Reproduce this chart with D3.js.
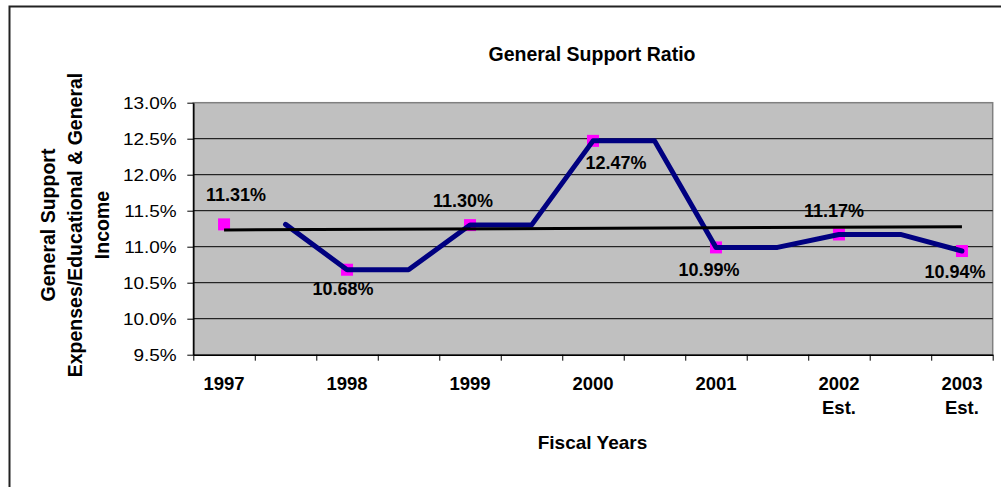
<!DOCTYPE html>
<html>
<head>
<meta charset="utf-8">
<script src="https://cdnjs.cloudflare.com/ajax/libs/d3/7.9.0/d3.min.js"></script>
<style>
  html, body { margin: 0; padding: 0; background: #fff; }
  svg { display: block; font-family: "Liberation Sans", Arial, sans-serif; }
</style>
</head>
<body>
<div id="grafico"></div>
<script>
// --- dados ---
const categorias = ["1997", "", "1998", "", "1999", "", "2000", "", "2001", "", "2002\nEst.", "", "2003\nEst."];
// linha azul (valores repetidos entre os anos, como no original)
const serieLinha = [null, 11.31, 10.68, 10.68, 11.30, 11.30, 12.47, 12.47, 10.99, 10.99, 11.17, 11.17, 10.94];
// marcadores magenta com rótulos
const serieMarcadores = [11.31, null, 10.68, null, 11.30, null, 12.47, null, 10.99, null, 11.17, null, 10.94];
// linha de tendência (início e fim)
const tendenciaIdx = [0, 12];
const tendenciaVal = [11.232, 11.278];
const ticksY = [9.5, 10.0, 10.5, 11.0, 11.5, 12.0, 12.5, 13.0];

// deslocamento dos rótulos em relação ao marcador [dx, dy]
const ROTULO_OFFSET = [[12, -23], null, [-4, 25], null, [-7, -18], null, [23, 28], null, [-7, 29], null, [-5, -17], null, [-7, 27]];

const W = 1001, H = 487;
const m = { left: 193.3, right: 992.7, top: 102.7, bottom: 354.7 };

const svg = d3.select("#grafico").append("svg")
  .attr("width", W).attr("height", H);

// moldura externa
svg.append("rect")
  .attr("x", 9.5).attr("y", 6.5)
  .attr("width", W + 20).attr("height", H + 20)
  .attr("fill", "#fff").attr("stroke", "#222").attr("stroke-width", 2);

const x = d3.scaleBand().domain(d3.range(categorias.length)).range([m.left, m.right]).padding(0);
const xLin = d3.scaleLinear().domain([0, categorias.length]).range([m.left, m.right]);
const y = d3.scaleLinear().domain([9.5, 13.0]).range([m.bottom, m.top]);
const cx = i => x(i) + x.bandwidth() / 2;

// área de plotagem
svg.append("rect")
  .attr("x", m.left).attr("y", m.top)
  .attr("width", m.right - m.left).attr("height", m.bottom - m.top)
  .attr("fill", "#c0c0c0").attr("stroke", "#808080").attr("stroke-width", 1.5);

// linhas de grade
svg.append("g").selectAll("line")
  .data(ticksY.filter(t => t > 9.5 && t < 13.0))
  .join("line")
  .attr("x1", m.left).attr("x2", m.right)
  .attr("y1", d => y(d)).attr("y2", d => y(d))
  .attr("stroke", "#000").attr("stroke-width", 1);

// eixo Y
const eixoY = svg.append("g")
  .attr("transform", `translate(${m.left},0)`)
  .call(d3.axisLeft(y).tickValues(ticksY).tickSize(6).tickSizeOuter(0)
    .tickFormat(d => d3.format(".1f")(d) + "%"));
eixoY.select(".domain").attr("stroke", "#000").attr("stroke-width", 1.5);
eixoY.selectAll(".tick line").attr("stroke", "#000");
eixoY.selectAll(".tick text")
  .attr("font-size", 16.5).attr("fill", "#000")
  .attr("x", -16.6 / 1.15).attr("dy", "0.36em")
  .attr("font-family", "'Liberation Sans', Arial, sans-serif")
  .attr("transform", "scale(1.15,1)");

// eixo X (marcas entre categorias)
const eixoX = svg.append("g")
  .attr("transform", `translate(0,${m.bottom})`)
  .call(d3.axisBottom(xLin).tickValues(d3.range(categorias.length + 1))
    .tickSize(6).tickSizeOuter(0).tickFormat(""));
eixoX.select(".domain").attr("stroke", "#000").attr("stroke-width", 1.5);
eixoX.selectAll(".tick line").attr("stroke", "#000");

// rótulos das categorias
const rotX = svg.append("g").selectAll("text")
  .data(categorias.map((c, i) => ({ c, i })).filter(d => d.c))
  .join("text")
  .attr("x", d => cx(d.i))
  .attr("y", 390)
  .attr("text-anchor", "middle")
  .attr("font-size", 18.5).attr("font-weight", "bold");
rotX.each(function(d) {
  const linhas = d.c.split("\n");
  d3.select(this).selectAll("tspan").data(linhas).join("tspan")
    .attr("x", cx(d.i))
    .attr("dy", (l, k) => k === 0 ? 0 : 24)
    .text(l => l);
});

// marcadores magenta
svg.append("g").selectAll("rect")
  .data(serieMarcadores.map((v, i) => ({ v, i })).filter(d => d.v != null))
  .join("rect")
  .attr("x", d => cx(d.i) - 6).attr("y", d => y(d.v) - 6)
  .attr("width", 12).attr("height", 12)
  .attr("fill", "#ff00ff");

// linha azul
const linha = d3.line()
  .defined(d => d.v != null)
  .x(d => cx(d.i)).y(d => y(d.v));
svg.append("path")
  .datum(serieLinha.map((v, i) => ({ v, i })))
  .attr("d", linha)
  .attr("fill", "none").attr("stroke", "#000080")
  .attr("stroke-width", 5).attr("stroke-linejoin", "round").attr("stroke-linecap", "round");

// linha de tendência
svg.append("path")
  .datum(tendenciaIdx.map((i, k) => ({ i, v: tendenciaVal[k] })))
  .attr("d", linha)
  .attr("fill", "none").attr("stroke", "#000").attr("stroke-width", 3);

// rótulos dos valores
svg.append("g").selectAll("text")
  .data(serieMarcadores.map((v, i) => ({ v, i })).filter(d => d.v != null))
  .join("text")
  .attr("x", d => cx(d.i) + ROTULO_OFFSET[d.i][0])
  .attr("y", d => y(d.v) + ROTULO_OFFSET[d.i][1])
  .attr("text-anchor", "middle")
  .attr("font-size", 18).attr("font-weight", "bold")
  .text(d => d3.format(".2f")(d.v) + "%");

// título
svg.append("text")
  .attr("x", 592).attr("y", 61)
  .attr("text-anchor", "middle")
  .attr("font-size", 19.5).attr("font-weight", "bold")
  .text("General Support Ratio");

// título do eixo X
svg.append("text")
  .attr("x", 592.5).attr("y", 449)
  .attr("text-anchor", "middle")
  .attr("font-size", 19).attr("font-weight", "bold")
  .text("Fiscal Years");

// título do eixo Y (três linhas, rotacionado)
const tituloY = ["General Support", "Expenses/Educational & General", "Income"];
svg.append("g").selectAll("text")
  .data(tituloY)
  .join("text")
  .attr("transform", (d, k) => `translate(${55 + k * 26.8},225) rotate(-90)`)
  .attr("text-anchor", "middle")
  .attr("font-size", 19.5).attr("font-weight", "bold")
  .text(d => d);
</script>
</body>
</html>
